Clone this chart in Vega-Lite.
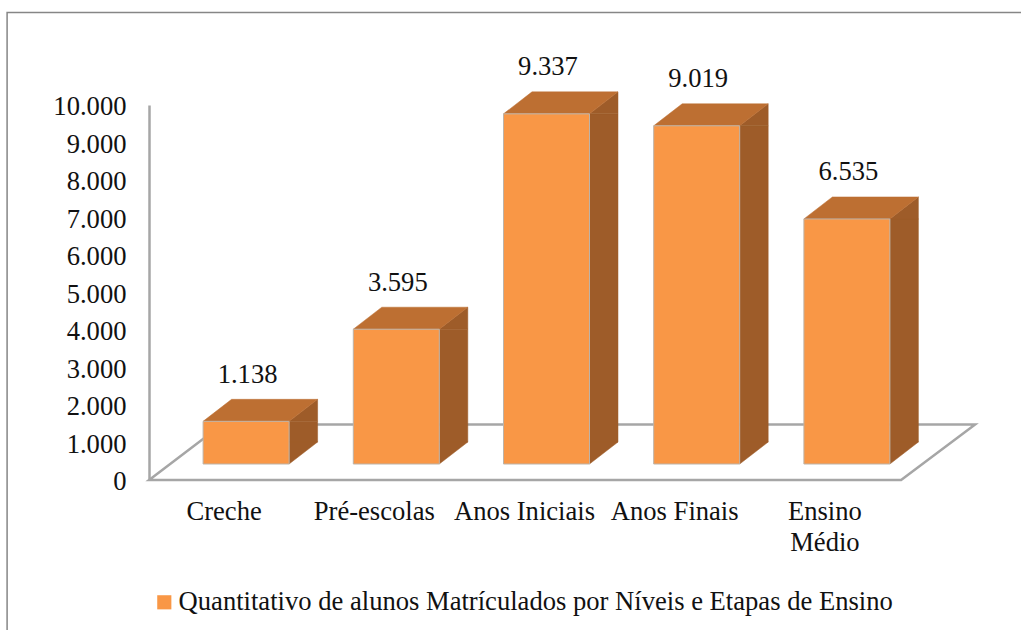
{
  "$schema": "https://vega.github.io/schema/vega-lite/v6.json",
  "width": 751,
  "height": 375,
  "autosize": {"type": "none"},
  "padding": {"left": 149, "top": 105, "right": 121, "bottom": 150},
  "background": "white",
  "config": {"view": {"stroke": null}, "font": "Liberation Serif"},
  "data": {"values": [
    {"categoria": "Creche", "valor": 1138, "rotulo": "1.138"},
    {"categoria": "Pré-escolas", "valor": 3595, "rotulo": "3.595"},
    {"categoria": "Anos Iniciais", "valor": 9337, "rotulo": "9.337"},
    {"categoria": "Anos Finais", "valor": 9019, "rotulo": "9.019"},
    {"categoria": "Ensino Médio", "valor": 6535, "rotulo": "6.535"}
  ]},
  "encoding": {
    "x": {"field": "categoria", "type": "nominal", "sort": null,
      "scale": {"paddingInner": 0, "paddingOuter": 0},
      "axis": {"title": null, "domain": false, "ticks": false, "labelAngle": 0, "labelFontSize": 26.6, "labelColor": "#111111", "labelPadding": 18, "labelLineHeight": 31,
        "labelExpr": "datum.label == 'Ensino Médio' ? ['Ensino', 'Médio'] : datum.label"}},
    "y": {"field": "valor", "type": "quantitative",
      "scale": {"domain": [0, 10000], "nice": false},
      "axis": {"title": null, "grid": false, "ticks": false, "domainColor": "#A6A6A6", "domainWidth": 2.5, "labelFontSize": 26.6, "labelColor": "#111111", "labelPadding": 23, "labelOffset": 1.5, "tickCount": 11,
        "labelExpr": "replace(format(datum.value, ','), ',', '.')"}}
  },
  "layer": [
    {"data": {"values": [{"categoria": "Creche", "valor": 0}]},
     "mark": {"type": "point", "shape": "M-217 150 L-217 -467.5 L797 -467.5", "size": 4, "filled": false, "stroke": "#868686", "strokeWidth": 1.5, "opacity": 1, "clip": false}},
    {"data": {"values": [{"categoria": "Creche", "valor": 0}]},
     "mark": {"type": "point", "shape": "M-75 0 L-2 -55.5 L751 -55.5 L677 0 Z", "size": 4, "filled": false, "stroke": "#A6A6A6", "strokeWidth": 2.5, "opacity": 1}},
    {"mark": {"type": "bar", "width": 28.5, "xOffset": 79.25, "yOffset": -16, "y2Offset": -38, "fill": "#9E5C29", "stroke": "#9E5C29", "strokeWidth": 0.5},
     "encoding": {"y2": {"datum": 0}}},
    {"mark": {"type": "point", "shape": "M65 -16 L93.5 -38 L65 -38 Z", "size": 4, "filled": true, "fill": "#9E5C29", "stroke": "#9E5C29", "strokeWidth": 0.5, "opacity": 1},
     "encoding": {"y": {"datum": 0}}},
    {"mark": {"type": "point", "shape": "M65 -16 L93.5 -38 L93.5 -16 Z", "size": 4, "filled": true, "fill": "#9E5C29", "stroke": "#9E5C29", "strokeWidth": 0.5, "opacity": 1}},
    {"mark": {"type": "point", "shape": "M-21 -16 L7.5 -38 L93.5 -38 L65 -16 Z", "size": 4, "filled": true, "fill": "#BD6F32", "stroke": "#BD6F32", "strokeWidth": 0.5, "opacity": 1}},
    {"mark": {"type": "bar", "width": 86, "xOffset": 22, "yOffset": -16, "y2Offset": -16, "stroke": "#BDB3A8", "strokeWidth": 1},
     "encoding": {
       "y2": {"datum": 0},
       "color": {"datum": "Quantitativo de alunos Matrículados por Níveis e Etapas de Ensino", "type": "nominal",
         "scale": {"range": ["#F99746"]},
         "legend": {"title": null, "orient": "none", "legendX": 2, "legendY": 484, "symbolType": "square", "symbolSize": 200, "symbolStrokeWidth": 0, "labelFontSize": 26.6, "labelColor": "#111111", "labelLimit": 900, "labelOffset": 1}}}},
    {"mark": {"type": "text", "fontSize": 26.6, "color": "#111111", "xOffset": 23.5, "dy": -62.5, "baseline": "middle"},
     "encoding": {"text": {"field": "rotulo", "type": "nominal"}}}
  ]
}
